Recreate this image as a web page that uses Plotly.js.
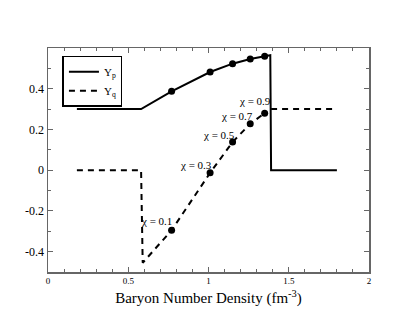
<!DOCTYPE html>
<html>
<head>
<meta charset="utf-8">
<script src="https://cdn.plot.ly/plotly-3.0.1.min.js"></script>
<style>body{margin:0;background:#fff}</style>
</head>
<body>
<div id="plot"></div>
<script>
// Yp: solid line, Yq: dashed line
var ypX = [0.18, 0.58, 0.77, 1.01, 1.15, 1.26, 1.35, 1.385, 1.39, 1.8];
var ypY = [0.3, 0.3, 0.387, 0.482, 0.523, 0.546, 0.559, 0.565, 0, 0];
var yqX = [0.18, 0.58, 0.59, 0.77, 1.01, 1.15, 1.26, 1.35];
var yqY = [0, 0, -0.455, -0.295, -0.013, 0.138, 0.228, 0.28];
var yqHiX = [1.39, 1.8];
var yqHiY = [0.3, 0.3];

// chi points
var chiX = [0.77, 1.01, 1.15, 1.26, 1.35];
var chiYp = [0.387, 0.482, 0.523, 0.546, 0.559];
var chiYq = [-0.295, -0.013, 0.138, 0.228, 0.28];
var chiLabels = ['χ = 0.1', 'χ = 0.3', 'χ = 0.5', 'χ = 0.7', 'χ = 0.9'];
var chiLabX = [0.675, 0.92, 1.067, 1.18, 1.287];
var chiLabY = [-0.25, 0.025, 0.175, 0.265, 0.339];

var font = 'Liberation Serif, serif';

var data = [
  {x: ypX, y: ypY, mode: 'lines', name: 'Y<sub>p</sub>',
   line: {color: 'black', width: 2}},
  {x: yqX, y: yqY, mode: 'lines', name: 'Y<sub>q</sub>',
   line: {color: 'black', width: 2, dash: '6px,5px'}},
  {x: yqHiX, y: yqHiY, mode: 'lines', showlegend: false,
   line: {color: 'black', width: 2, dash: '6px,5px'}},
  {x: chiX, y: chiYp, mode: 'markers', showlegend: false,
   marker: {color: 'black', size: 7}},
  {x: chiX, y: chiYq, mode: 'markers', showlegend: false,
   marker: {color: 'black', size: 7}}
];

var annotations = chiLabels.map(function (t, i) {
  return {x: chiLabX[i], y: chiLabY[i], text: t, showarrow: false,
    font: {family: font, size: 11, color: 'black'}};
});

var layout = {
  width: 415, height: 321,
  margin: {l: 48, r: 46, t: 48, b: 49},
  paper_bgcolor: 'white', plot_bgcolor: 'white',
  showlegend: true,
  legend: {x: 0.045, y: 0.965, xanchor: 'left', yanchor: 'top',
    bordercolor: 'black', borderwidth: 1.5, bgcolor: 'white',
    font: {family: font, size: 11, color: 'black'},
    tracegroupgap: 0, itemwidth: 30},
  annotations: annotations,
  xaxis: {
    range: [0, 2], dtick: 0.5, tick0: 0,
    showgrid: false, zeroline: false,
    showline: true, linecolor: '#666', linewidth: 1.5, mirror: 'ticks',
    ticks: 'inside', ticklen: 5, tickcolor: '#666',
    minor: {dtick: 0.1, ticks: 'inside', ticklen: 3, tickcolor: '#666'},
    tickfont: {family: font, size: 9, color: 'black'},
    title: {text: 'Baryon Number Density (fm<sup>-3</sup>)', standoff: 7,
      font: {family: font, size: 15, color: 'black'}}
  },
  yaxis: {
    range: [-0.5, 0.6], dtick: 0.2, tick0: 0,
    showgrid: false, zeroline: false,
    showline: true, linecolor: '#666', linewidth: 1.5, mirror: 'ticks',
    ticks: 'inside', ticklen: 5, tickcolor: '#666',
    minor: {dtick: 0.1, ticks: 'inside', ticklen: 3, tickcolor: '#666'},
    tickfont: {family: font, size: 12, color: 'black'},
    tickvals: [-0.4, -0.2, 0, 0.2, 0.4],
    ticktext: ['-0.4', '-0.2', '0', '0.2', '0.4']
  }
};

Plotly.newPlot('plot', data, layout, {displayModeBar: false, staticPlot: true});
</script>
</body>
</html>
